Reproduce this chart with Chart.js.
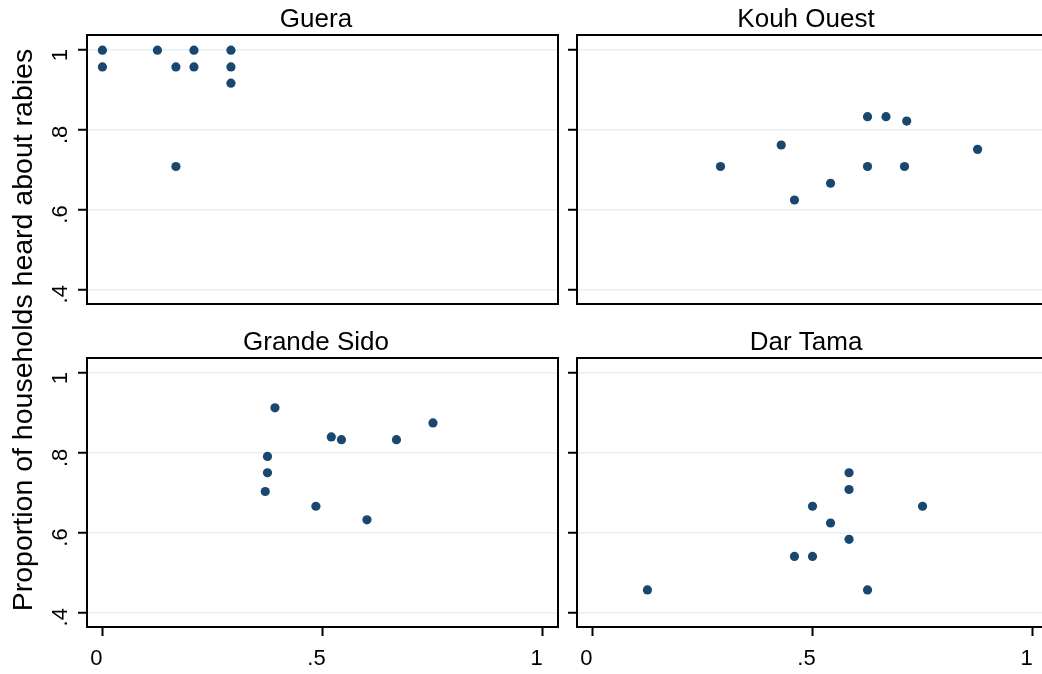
<!DOCTYPE html>
<html>
<head>
<meta charset="utf-8">
<script src="https://cdn.jsdelivr.net/npm/chart.js@4.4.1/dist/chart.umd.min.js"></script>
<style>
  html, body { margin: 0; padding: 0; background: #fff; }
  #page { position: relative; width: 1042px; height: 674px; overflow: hidden; background: #fff; }
  #page canvas { position: absolute; left: 0; top: 0; }
  #ytitle {
    position: absolute; left: -278px; top: 314px; width: 600px; height: 32px;
    line-height: 32px; text-align: center; white-space: nowrap;
    transform: rotate(-90deg);
    font: 28.5px 'Liberation Sans', Arial, sans-serif; color: #000;
  }
</style>
</head>
<body>
<div id="page">
  <canvas id="c0" width="1060" height="674"></canvas>
  <canvas id="c1" width="1060" height="674"></canvas>
  <canvas id="c2" width="1060" height="674"></canvas>
  <canvas id="c3" width="1060" height="674"></canvas>
  <div id="ytitle">Proportion of households heard about rabies</div>
</div>
<script>
// Axis ticks shared by every panel
const xTickValues = [0, 0.5, 1];
const xTickLabels = ['0', '.5', '1'];
const yTickValues = [0.4, 0.6, 0.8, 1];
const yTickLabels = ['.4', '.6', '.8', '1'];

// Region names (one panel each)
const regions = ['Guera', 'Kouh Ouest', 'Grande Sido', 'Dar Tama'];

// Village-level observations per region
const gueraX = [0, 0, 0.125, 0.167, 0.167, 0.208, 0.208, 0.292, 0.292, 0.292];
const gueraY = [1, 0.958, 1, 0.958, 0.708, 1, 0.958, 1, 0.958, 0.917];

const kouhOuestX = [0.291, 0.429, 0.459, 0.541, 0.625, 0.667, 0.714, 0.625, 0.709, 0.875];
const kouhOuestY = [0.708, 0.762, 0.624, 0.666, 0.833, 0.833, 0.822, 0.708, 0.708, 0.751];

const grandeSidoX = [0.392, 0.520, 0.543, 0.668, 0.751, 0.375, 0.375, 0.370, 0.485, 0.601];
const grandeSidoY = [0.913, 0.840, 0.833, 0.833, 0.875, 0.791, 0.750, 0.703, 0.666, 0.632];

const darTamaX = [0.125, 0.459, 0.5, 0.5, 0.541, 0.583, 0.583, 0.583, 0.625, 0.75];
const darTamaY = [0.456, 0.540, 0.540, 0.666, 0.624, 0.750, 0.708, 0.583, 0.456, 0.666];

// Axis ranges
const xRange = [-0.035, 1.035];
const yRange = [0.363, 1.038];

const MARKER = '#1a476f';
const GRID = '#e8f0f3';
const FONT = "'Liberation Sans', Arial, sans-serif";

// Plot regions of the 2x2 layout
const panels = [
  { title: regions[0], xs: gueraX, ys: gueraY, area: { l: 87, r: 558, t: 35, b: 304 }, titleX: 316, showX: false, showYLabels: true },
  { title: regions[1], xs: kouhOuestX, ys: kouhOuestY, area: { l: 577, r: 1048, t: 35, b: 304 }, titleX: 806, showX: false, showYLabels: false },
  { title: regions[2], xs: grandeSidoX, ys: grandeSidoY, area: { l: 87, r: 558, t: 358, b: 627 }, titleX: 316, showX: true, showYLabels: true },
  { title: regions[3], xs: darTamaX, ys: darTamaY, area: { l: 577, r: 1048, t: 358, b: 627 }, titleX: 806, showX: true, showYLabels: false }
];

// Black box around the plot region
const framePlugin = {
  id: 'frame',
  beforeDatasetsDraw(chart) {
    const a = chart.chartArea, ctx = chart.ctx;
    ctx.save();
    ctx.strokeStyle = '#000';
    ctx.lineWidth = 2;
    ctx.strokeRect(a.left, a.top, a.right - a.left, a.bottom - a.top);
    ctx.restore();
  }
};

// Panel heading and vertical y tick labels
const panelTextPlugin = {
  id: 'panelText',
  afterDraw(chart, args, opts) {
    const ctx = chart.ctx, a = chart.chartArea;
    ctx.save();
    ctx.fillStyle = '#000';
    ctx.font = '26px ' + FONT;
    ctx.textAlign = 'center';
    ctx.textBaseline = 'alphabetic';
    ctx.fillText(opts.title, opts.titleX, a.top - 8);
    if (opts.showYLabels) {
      const ys = chart.scales.y;
      ctx.font = '22px ' + FONT;
      ctx.textBaseline = 'middle';
      yTickValues.forEach((v, i) => {
        ctx.save();
        ctx.translate(61, ys.getPixelForValue(v) + 5);
        ctx.rotate(-Math.PI / 2);
        ctx.fillText(yTickLabels[i], 0, 0);
        ctx.restore();
      });
    }
    ctx.restore();
  }
};

function makePanel(canvas, p) {
  const W = canvas.width, H = canvas.height;
  const yAxisW = 10;
  const xAxisH = p.showX ? (H - p.area.b) : 0;
  return new Chart(canvas, {
    type: 'scatter',
    data: {
      datasets: [{
        data: p.xs.map((x, i) => ({ x: x, y: p.ys[i] })),
        pointBackgroundColor: MARKER,
        pointBorderColor: MARKER,
        pointBorderWidth: 0,
        pointRadius: 4.6,
        pointHoverRadius: 4.6
      }]
    },
    options: {
      responsive: false,
      animation: false,
      devicePixelRatio: 1,
      events: [],
      layout: {
        padding: { left: p.area.l - yAxisW, right: W - p.area.r, top: p.area.t, bottom: H - p.area.b - xAxisH }
      },
      plugins: {
        legend: { display: false },
        tooltip: { enabled: false },
        title: { display: false },
        panelText: { title: p.title, titleX: p.titleX, showYLabels: p.showYLabels }
      },
      scales: {
        x: {
          type: 'linear',
          min: xRange[0], max: xRange[1],
          display: p.showX,
          afterBuildTicks: s => { s.ticks = xTickValues.map(v => ({ value: v })); },
          afterFit: s => { s.height = xAxisH; s.paddingLeft = 0; s.paddingRight = 0; },
          grid: { drawOnChartArea: false, drawTicks: true, tickLength: 9, tickWidth: 2, tickColor: '#000' },
          border: { display: false },
          ticks: {
            autoSkip: false, maxRotation: 0, minRotation: 0,
            padding: 10, labelOffset: -6, color: '#000',
            font: { family: FONT, size: 22 },
            callback: (v, i) => xTickLabels[i]
          }
        },
        y: {
          type: 'linear',
          min: yRange[0], max: yRange[1],
          afterBuildTicks: s => { s.ticks = yTickValues.map(v => ({ value: v })); },
          afterFit: s => { s.width = yAxisW; s.paddingTop = 0; s.paddingBottom = 0; },
          grid: { color: GRID, lineWidth: 1.5, drawTicks: true, tickLength: 9, tickWidth: 2, tickColor: '#000' },
          border: { display: false },
          ticks: { display: false }
        }
      }
    },
    plugins: [framePlugin, panelTextPlugin]
  });
}

panels.forEach((p, i) => makePanel(document.getElementById('c' + i), p));
</script>
</body>
</html>
